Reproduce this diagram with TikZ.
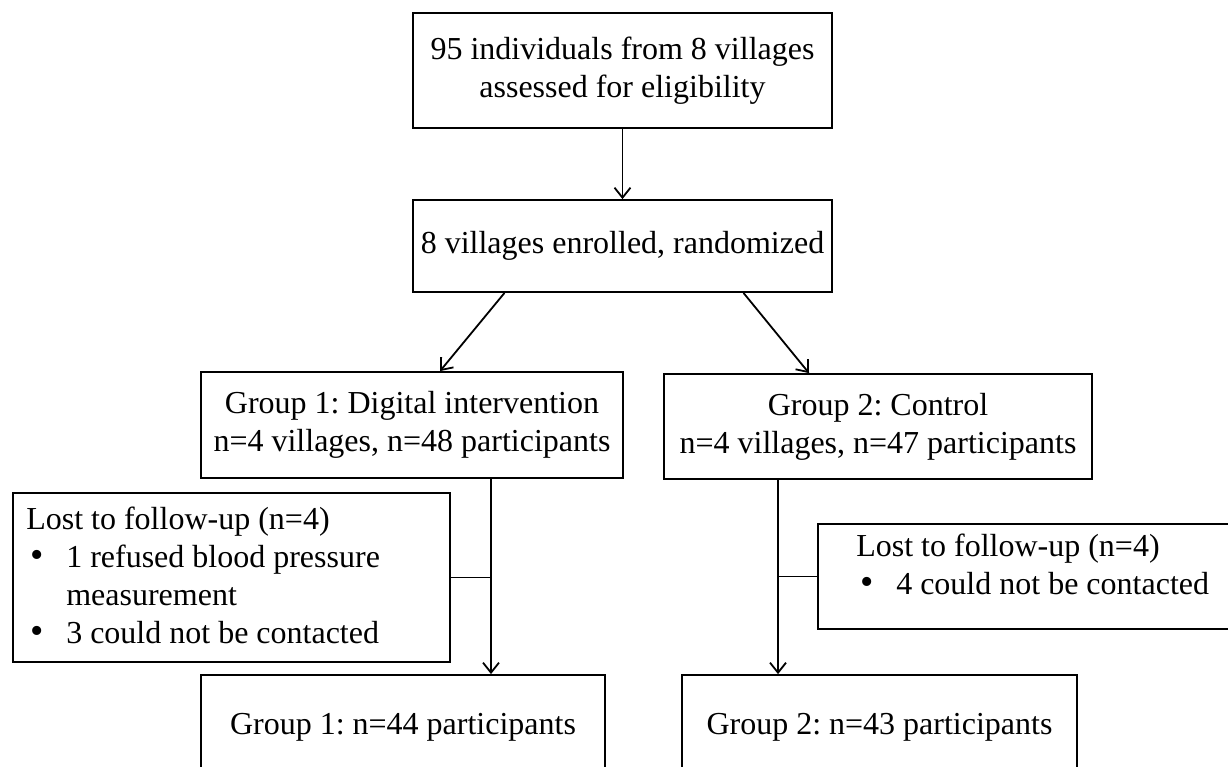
\documentclass[tikz,border=0pt]{standalone}
\usepackage{fontspec}
\setmainfont{Liberation Serif}
\usetikzlibrary{positioning,arrows.meta,calc}

\tikzset{
  flowbox/.style={draw, line width=1.8pt, inner sep=3pt, align=center},
  losttext/.style={inner sep=0pt, align=left, anchor=north west},
  conn/.style={line width=1.8pt, -{Straight Barb[length=10pt,width=16pt,line width=1.8pt]}},
  branch/.style={line width=1.8pt}
}
\newcommand{\lostitem}[1]{\hspace*{4pt}\makebox[36pt][l]{\fontsize{38}{38}\selectfont\textbullet}#1}

\begin{document}
\frenchspacing
\begin{tikzpicture}[x=1pt, y=-1pt, font=\fontsize{32}{38}\selectfont\frenchspacing]
  \useasboundingbox (0,0) rectangle (1228,766);
  \clip (0,0) rectangle (1228,766);
  % enrolment
  \node[flowbox, minimum width=419pt, minimum height=115pt] (assess) at (622.5,70.5)
    {95 individuals from 8 villages\\assessed for eligibility};
  \node[flowbox, minimum width=419pt, minimum height=92pt] (rand) at (622.5,246)
    {8 villages enrolled, randomized};
  % allocation
  \node[flowbox, minimum width=422pt, minimum height=106pt] (grp1) at (412,425)
    {Group 1: Digital intervention\\n=4 villages, n=48 participants};
  \node[flowbox, minimum width=428pt, minimum height=105pt] (grp2) at (878,426.5)
    {Group 2: Control\\n=4 villages, n=47 participants};
  % follow-up
  \node[flowbox, minimum width=437pt, minimum height=169pt] (lost1) at (231.5,577.5) {};
  \node[losttext] (lost1txt) at ([xshift=14pt,yshift=-15pt]lost1.north west)
    {Lost to follow-up (n=4)\\
     \lostitem{1 refused blood pressure}\\
     \hspace*{40pt}measurement\\
     \lostitem{3 could not be contacted}};
  \node[flowbox, minimum width=422pt, minimum height=105pt] (lost2) at (1029,576.5) {};
  \node[losttext] (lost2txt) at ([xshift=39pt,yshift=-11pt]lost2.north west)
    {Lost to follow-up (n=4)\\
     \lostitem{4 could not be contacted}};
  % analysis
  \node[flowbox, minimum width=404pt, minimum height=104pt] (res1) at (403,727)
    {Group 1: n=44 participants};
  \node[flowbox, minimum width=395pt, minimum height=104pt] (res2) at (879.5,727)
    {Group 2: n=43 participants};
  % connectors
  \draw[conn] (assess) -- (rand);
  \draw[conn] ([xshift=-118pt]rand.south) -- ([xshift=28pt]grp1.north);
  \draw[conn] ([xshift=121pt]rand.south) -- ([xshift=-69pt]grp2.north);
  \coordinate (split1) at ([xshift=79pt]grp1.south);
  \draw[conn] (split1) -- (split1 |- res1.north);
  \draw[branch] (lost1.east) -- (lost1.east -| split1);
  \coordinate (split2) at ([xshift=-100pt]grp2.south);
  \draw[conn] (split2) -- (split2 |- res2.north);
  \draw[branch] (lost2.west) -- (lost2.west -| split2);
\end{tikzpicture}
\end{document}
